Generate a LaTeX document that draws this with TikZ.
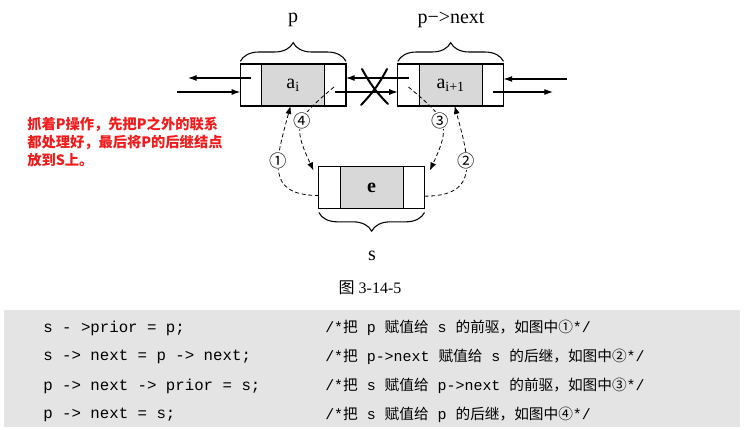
\documentclass[tikz,border=0pt]{standalone}
\usepackage{fontspec}
\setmainfont{Liberation Serif}
\setmonofont{Liberation Mono}
\newfontfamily\cjkfont{Noto Sans CJK SC}
\usepackage{tikz}
\usetikzlibrary{positioning,arrows.meta,decorations.pathreplacing}
\definecolor{codebg}{HTML}{E4E4E4}
\definecolor{datafill}{HTML}{D8D8D8}
\definecolor{notered}{HTML}{F21A1A}
\newcommand{\zh}[1]{{\cjkfont #1}}
\newcommand{\zc}[1]{{\cjkfont\fontsize{11pt}{14pt}\selectfont #1}}
\newcommand{\LinkLabelFont}{\fontsize{15pt}{18pt}\selectfont}
\newcommand{\CodeFont}{\fontsize{11.8pt}{14pt}\selectfont\ttfamily}
\newcommand{\CommentFont}{\fontsize{11.2pt}{14pt}\selectfont\ttfamily}
\newcommand{\NoteFont}{\fontsize{10.7pt}{13.6pt}\selectfont\cjkfont\bfseries}
\tikzset{
  sidecell/.style={
    draw, line width=0.8pt, minimum width=16pt, minimum height=31.5pt,
    inner sep=0, outer sep=0
  },
  datacell/.style={
    sidecell, fill=datafill, minimum width=47.25pt, font=\LinkLabelFont
  },
  link/.style={-{Latex[length=6.5pt,width=4.5pt]}, line width=0.8pt},
  step arrow/.style={
    -{Latex[length=6pt,width=4.5pt]}, dashed, dash pattern=on 3pt off 2pt,
    line width=0.6pt, looseness=1.5
  },
  circ label/.style={
    fill=white, inner sep=0.4pt, font=\cjkfont\fontsize{13pt}{14pt}\selectfont
  },
  brace line/.style={
    decorate, decoration={brace, amplitude=14pt}, line width=0.8pt
  },
  name label/.style={font=\LinkLabelFont, inner sep=0},
  cut mark/.style={line width=1.5pt, line cap=round},
  code line/.style={anchor=west, inner sep=0},
  note text/.style={
    text=notered, font=\NoteFont, align=left, inner sep=0
  }
}

\begin{document}
\begin{tikzpicture}[x=0.75pt, y=0.75pt]
  \useasboundingbox (0,0) rectangle (745,-429);
  \fill[codebg] (4,-310) rectangle (740,-427);

  % the three list nodes
  \node[sidecell] (pL) at (251,-85) {};
  \node[datacell, right=0pt of pL] (pD) {a\textsubscript{i}};
  \node[sidecell, right=0pt of pD] (pR) {};

  \node[sidecell] (nL) at (408.5,-85) {};
  \node[datacell, right=0pt of nL] (nD) {a\textsubscript{i+1}};
  \node[sidecell, right=0pt of nD] (nR) {};

  \node[sidecell] (sL) at (329.5,-187.5) {};
  \node[datacell, right=0pt of sL] (sD) {\bfseries e};
  \node[sidecell, right=0pt of sD] (sR) {};

  % braces and names
  \draw[brace line] ([yshift=2pt]pL.north west) -- ([yshift=2pt]pR.north east);
  \draw[brace line] ([yshift=2pt]nL.north west) -- ([yshift=2pt]nR.north east);
  \draw[brace line] ([yshift=-3pt]sR.south east) -- ([yshift=-3pt]sL.south west);
  \node[name label] (plbl) at (293,-20) {p};
  \node[name label] (nlbl) at (451,-20) {p−>next};
  \node[name label] (slbl) at (372,-256) {s};
  \node[font=\fontsize{12pt}{14pt}\selectfont, inner sep=0] (cap) at (370,-288) {\zh{图} 3-14-5};

  % old links
  \coordinate (farL) at (188,-78);
  \coordinate (inL) at (177,-92);
  \coordinate (inR) at (567,-79);
  \coordinate (farR) at (553,-92);
  \draw[link] ([yshift=5.25pt]pL.center) -- (farL);
  \draw[link] (inL) -- (inL -| pL.west);
  \draw[link] ([yshift=-5.25pt]pR.center) -- ([yshift=-5.25pt]nL.west);
  \draw[link] ([yshift=5.25pt]nL.center) -- ([yshift=5.25pt]pR.east);
  \draw[link] (inR) -- (inR -| nR.east);
  \draw[link] ([yshift=-5.25pt]nR.center) -- (farR);
  \draw[cut mark] (362,-69) to[bend right=8] (388,-104);
  \draw[cut mark] (387,-69) to[bend left=8] (361,-105);

  % new links, in order
  \draw[step arrow] ([yshift=-6pt]sL.west) to[out=180, in=-105]
    node[circ label, pos=0.6] {①} ([xshift=-2pt]pD.south);
  \draw[step arrow] ([yshift=-6.5pt]sR.east) to[out=0, in=-75]
    node[circ label, pos=0.6] {②} ([xshift=3pt]nD.south);
  \draw[step arrow] ([yshift=-1.5pt]nL.center) to[out=-40, in=65]
    node[circ label, pos=0.45] {③} ([xshift=4pt, yshift=-3pt]sR.north east);
  \draw[step arrow] ([xshift=-1pt, yshift=-1.5pt]pR.center) to[out=220, in=115]
    node[circ label, pos=0.45] {④} ([xshift=-4pt, yshift=-3pt]sL.north west);

  \node[note text, anchor=north west] (note) at (27,-117)
    {抓着P操作，先把P之外的联系\\都处理好，最后将P的后继结点\\放到S上。};

  % code
  \node[code line, font=\CodeFont] (c1) at (43,-328) {s - >prior = p;};
  \node[code line, font=\CodeFont] (c2) at (43,-357) {s -> next = p -> next;};
  \node[code line, font=\CodeFont] (c3) at (43,-386) {p -> next -> prior = s;};
  \node[code line, font=\CodeFont] (c4) at (43,-415) {p -> next = s;};
  \node[code line, font=\CommentFont] (m1) at (325,-328)
    {/*\zc{把} p \zc{赋值给} s \zc{的前驱，如图中①}*/};
  \node[code line, font=\CommentFont] (m2) at (325,-357)
    {/*\zc{把} p->next \zc{赋值给} s \zc{的后继，如图中②}*/};
  \node[code line, font=\CommentFont] (m3) at (325,-386)
    {/*\zc{把} s \zc{赋值给} p->next \zc{的前驱，如图中③}*/};
  \node[code line, font=\CommentFont] (m4) at (325,-415)
    {/*\zc{把} s \zc{赋值给} p \zc{的后继，如图中④}*/};
\end{tikzpicture}
\end{document}
